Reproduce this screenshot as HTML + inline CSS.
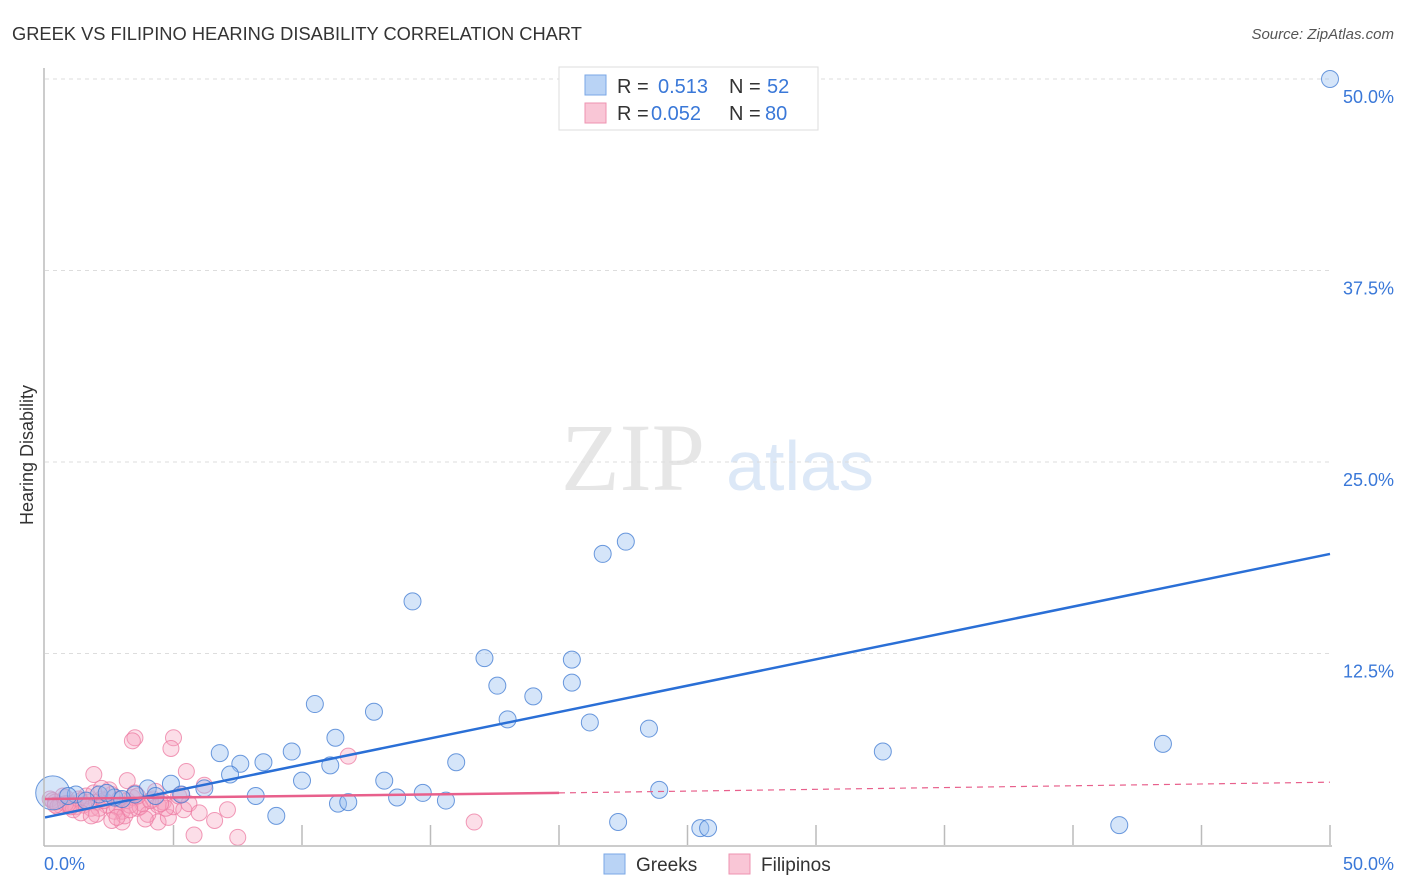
<!DOCTYPE html>
<html><head><meta charset="utf-8"><style>
body{margin:0;background:#fff;font-family:"Liberation Sans",sans-serif;}
svg{display:block}
</style></head><body>
<svg id="c" width="1406" height="892">
<text x="12" y="40" font-size="18.3" fill="#333">GREEK VS FILIPINO HEARING DISABILITY CORRELATION CHART</text>
<text x="1394" y="39" font-size="15" fill="#555" text-anchor="end" font-style="italic">Source: ZipAtlas.com</text>
<text x="33" y="455" font-size="18" fill="#333" text-anchor="middle" transform="rotate(-90 33 455)">Hearing Disability</text>
<text x="633" y="490" font-size="96" fill="#e6e6e6" font-family="Liberation Serif,serif" text-anchor="middle">ZIP</text>
<text x="800" y="490" font-size="70" fill="#dce8f7" text-anchor="middle">atlas</text>
<g id="grid"></g><g id="pts"></g><g id="lines"></g>
<line x1="44" y1="68" x2="44" y2="846" stroke="#bbb" stroke-width="1.5"/>
<line x1="44" y1="846" x2="1332" y2="846" stroke="#bbb" stroke-width="1.5"/>
<text x="44" y="870" font-size="18" fill="#3a78d8">0.0%</text>
<text x="1394" y="870" font-size="18" fill="#3a78d8" text-anchor="end">50.0%</text>
<g>
<rect x="559" y="67" width="259" height="63" fill="#fff" stroke="#ddd"/>
<rect x="585" y="75" width="21" height="20" fill="#b9d3f5" stroke="#7aa7e6"/>
<rect x="585" y="103" width="21" height="20" fill="#f9c6d6" stroke="#ee93b0"/>
<text x="617" y="93" font-size="20" fill="#333">R = <tspan fill="#3a78d8" x="658">0.513</tspan><tspan x="729" fill="#333">N = </tspan><tspan fill="#3a78d8" x="767">52</tspan></text>
<text x="617" y="120" font-size="20" fill="#333">R = <tspan fill="#3a78d8" x="651">0.052</tspan><tspan x="729" fill="#333">N = </tspan><tspan fill="#3a78d8" x="765">80</tspan></text>
</g>
<g><rect x="604" y="854" width="21" height="20" fill="#b9d3f5" stroke="#7aa7e6"/><text x="636" y="871" font-size="19" fill="#333">Greeks</text></g>
<g><rect x="729" y="854" width="21" height="20" fill="#f9c6d6" stroke="#ee93b0"/><text x="761" y="871" font-size="19" fill="#333">Filipinos</text></g>
</svg>
<script>
const yTicks=[12.5,25,37.5,50];
const xTicks=[5,10,15,20,25,30,35,40,45,50];
const greeksX=[50,22.6,21.7,14.3,17.1,20.5,17.6,20.5,19.0,10.5,12.8,18.0,21.2,23.5,11.3,43.5,32.6,9.6,6.8,8.5,7.6,16.0,11.1,7.2,10.0,13.2,4.9,6.2,23.9,4.0,5.3,8.2,13.7,14.7,15.6,11.4,11.8,9.0,22.3,25.5,25.8,41.8,0.3,1.2,2.1,2.7,3.5,4.3,1.6,3.0,0.9,2.4];
const greeksY=[50,19.8,19.0,15.9,12.2,12.1,10.4,10.6,9.7,9.2,8.7,8.2,8.0,7.6,7.0,6.6,6.1,6.1,6.0,5.4,5.3,5.4,5.2,4.6,4.2,4.2,4.0,3.7,3.6,3.7,3.3,3.2,3.1,3.4,2.9,2.7,2.8,1.9,1.5,1.1,1.1,1.3,3.4,3.3,3.3,3.1,3.3,3.2,2.9,3.0,3.2,3.4];
const filX=[3.5,3.4,5.0,4.9,11.8,5.5,1.9,3.2,16.7,5.8,7.5,6.6,7.1,4.4,3.0,0.2,0.4,0.6,0.8,1.0,1.2,1.4,1.6,1.8,2.0,2.2,2.4,2.6,2.8,3.0,3.2,3.4,3.6,3.8,4.0,4.2,4.4,4.6,4.8,5.0,5.2,5.4,5.6,6.0,6.2,0.3,0.5,0.7,0.9,1.1,1.3,1.5,1.7,1.9,2.1,2.3,2.5,2.7,2.9,3.1,3.3,3.5,3.7,3.9,4.1,4.3,2.0,2.6,3.3,1.4,0.8,4.7,1.8,3.6,2.2,1.0,2.8,4.5,5.3,0.4];
const filY=[7.0,6.8,7.0,6.3,5.8,4.8,4.6,4.2,1.5,0.65,0.5,1.6,2.3,1.5,1.5,3.0,2.8,2.6,3.1,2.7,2.5,2.9,3.2,2.4,2.8,3.0,2.6,3.3,2.5,2.2,2.9,3.1,2.4,2.7,2.0,3.0,2.6,2.8,1.8,2.5,3.2,2.3,2.7,2.1,3.9,2.9,2.5,3.2,2.7,2.3,3.0,2.6,2.8,3.4,2.4,2.9,3.6,2.2,3.0,1.9,2.6,3.4,2.5,1.7,2.9,3.5,2.0,1.6,2.3,2.1,2.7,2.4,1.9,3.2,3.7,2.5,1.8,2.7,3.3,2.6];
const greekFit=[1.8,19.0];
const filFit=[3.0,3.4,4.1];
const X=v=>45+v*25.7, Y=v=>845-v*15.32;
const NS='http://www.w3.org/2000/svg';
function mk(t,a,p){const e=document.createElementNS(NS,t);for(const k in a)e.setAttribute(k,a[k]);p.appendChild(e);return e;}
const grid=document.getElementById('grid'),pts=document.getElementById('pts'),lines=document.getElementById('lines');
yTicks.forEach(v=>{
 const l=mk('line',{x1:45,x2:1330,y1:Y(v),y2:Y(v),stroke:'#ddd','stroke-dasharray':'4,4'},grid);
 
 
 const t=mk('text',{x:1394,y:Y(v)+24,'font-size':18,fill:'#3a78d8','text-anchor':'end'},grid);
 t.textContent=v.toFixed(1)+'%';
 
 
});
xTicks.forEach(v=>{
 const l=mk('line',{x1:X(v),x2:X(v),y1:825,y2:845,stroke:'#bbb','stroke-width':1.5},grid);
 
 
});
filX.forEach((x,i)=>{
 const c=mk('circle',{cx:X(x),cy:Y(filY[i]),r:8,fill:'rgba(246,160,188,0.35)',stroke:'rgba(236,120,160,0.75)','stroke-width':1},pts);
 
 
});
greeksX.forEach((x,i)=>{
 const c=mk('circle',{cx:X(x),cy:Y(greeksY[i]),r:(i==42?17:8.5),fill:'rgba(150,190,240,0.4)',stroke:'rgba(60,120,210,0.75)','stroke-width':1},pts);
 
 
});
let l=mk('line',{x1:X(0),y1:Y(greekFit[0]),x2:X(50),y2:Y(greekFit[1]),stroke:'#2a6fd6','stroke-width':2.5},lines);


l=mk('line',{x1:X(0),y1:Y(filFit[0]),x2:X(20),y2:Y(filFit[1]),stroke:'#e8608c','stroke-width':2.5},lines);


l=mk('line',{x1:X(20),y1:Y(filFit[1]),x2:X(50),y2:Y(filFit[2]),stroke:'#e8608c','stroke-width':1.2,'stroke-dasharray':'6,5'},lines);


</script>
</body></html>
